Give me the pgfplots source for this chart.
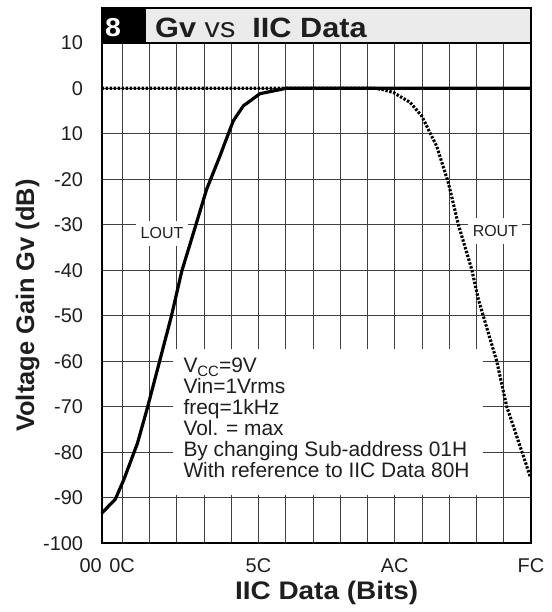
\documentclass[border=0pt]{standalone}
\usepackage{fontspec}
\setmainfont{Liberation Sans}
\newfontfamily\widefont[FakeStretch=1.1]{Liberation Sans}
\usepackage{pgfplots}
\pgfplotsset{compat=1.18}
\definecolor{titlegray}{HTML}{EBEBEB}
\definecolor{gridc}{HTML}{404040}
\definecolor{txt}{HTML}{1E1E1E}
\begin{document}
\begin{tikzpicture}
\begin{axis}[
  at={(0,0)}, anchor=south west,
  scale only axis, width=429.3bp, height=500.6bp,
  xmin=0, xmax=252, ymin=-100, ymax=10,
  xtick={0,12,28,44,60,76,92,108,124,140,156,172,188,204,220,236,252},
  xticklabels={\llap{00},0C,,,,,5C,,,,,AC,,,,,FC},
  ytick={-100,-90,...,10},
  yticklabels={-100,-90,-80,-70,-60,-50,-40,-30,-20,10,0,10},
  major tick length=0pt,
  grid=major,
  major grid style={gridc, line width=0.75bp},
  axis line style={black, line width=1.7bp},
  tick label style={font=\fontsize{20}{20}\selectfont, text=txt},
  yticklabel style={anchor=east, inner sep=0pt, xshift=-18.5bp},
  xticklabel style={anchor=north, inner sep=0pt, yshift=-15bp},
  xlabel={IIC Data (Bits)}, ylabel={Voltage Gain Gv (dB)},
  label style={text=txt},
  xlabel style={font=\widefont\bfseries\fontsize{25.5}{25.5}\selectfont, at={(axis description cs:0.524,-0.0993)}, anchor=center},
  ylabel style={font=\bfseries\fontsize{25.5}{25.5}\selectfont, at={(axis description cs:-0.1728,0.475)}, anchor=center},
  clip=false,
]
% white box behind the conditions text
\fill[white] (axis cs:41.9,-57.4) rectangle (axis cs:223.9,-89.4);
% ROUT (dotted)
\addplot[black, line width=3.1bp, dash pattern=on 2.4bp off 1.6bp] coordinates {
 (0,0) (160,0) (165,-0.3) (171.2,-0.95) (181,-3.1) (187.8,-6.1) (196.6,-12.7)
 (203.5,-20.8) (209.3,-29.9) (217.2,-39.8) (221.1,-46.4) (231.9,-60.0)
 (237.7,-69.9) (245.6,-78.7) (251.5,-85.3)
};
% LOUT (solid)
\addplot[black, line width=3.2bp, line join=round] coordinates {
 (0,-93.4) (8,-90.3) (13,-86) (17,-82) (21,-78) (27,-70) (34.2,-59.7)
 (40.9,-50.1) (47,-40.2) (55.4,-29.9) (61.6,-22.2) (69.4,-14.9) (77.2,-7.2)
 (83.1,-3.9) (92.9,-1.2) (108.6,0) (252,0)
};
\node[fill=white, text=txt, inner xsep=4.5bp, inner ysep=7bp, font=\fontsize{16}{16}\selectfont] at (axis cs:35.4,-31.9) {LOUT};
\node[fill=white, text=txt, inner xsep=4.5bp, inner ysep=7bp, font=\fontsize{16}{16}\selectfont] at (axis cs:231.1,-31.4) {ROUT};
\node[anchor=north west, inner sep=0pt, align=left, text=txt, font=\fontsize{21}{21}\selectfont] at (axis cs:47.9,-59.2) {V\raisebox{-0.2em}{\fontsize{15}{15}\selectfont CC}=9V\\Vin=1Vrms\\freq=1kHz\\Vol. = max\\By changing Sub-address 01H\\With reference to IIC Data 80H};
\end{axis}
% title banner
\draw[line width=1.5bp, fill=titlegray] (43.3bp,500.6bp) rectangle (429.3bp,535.3bp);
\draw[line width=1.5bp, fill=black] (0bp,500.6bp) rectangle (43.3bp,535.3bp);
\node[anchor=base west, inner sep=0pt, text=white, font=\widefont\bfseries\fontsize{26}{26}\selectfont] at (3.3bp,506.6bp) {8};
\node[anchor=base west, inner sep=0pt, text=txt, font=\widefont\fontsize{28}{28}\selectfont] at (53.3bp,506bp) {\textbf{Gv} vs\ \ \textbf{IIC Data}};
\pgfresetboundingbox
\path[use as bounding box] (-101.7bp,-68.7bp) rectangle (450.3bp,543.3bp);
\end{tikzpicture}
\end{document}
